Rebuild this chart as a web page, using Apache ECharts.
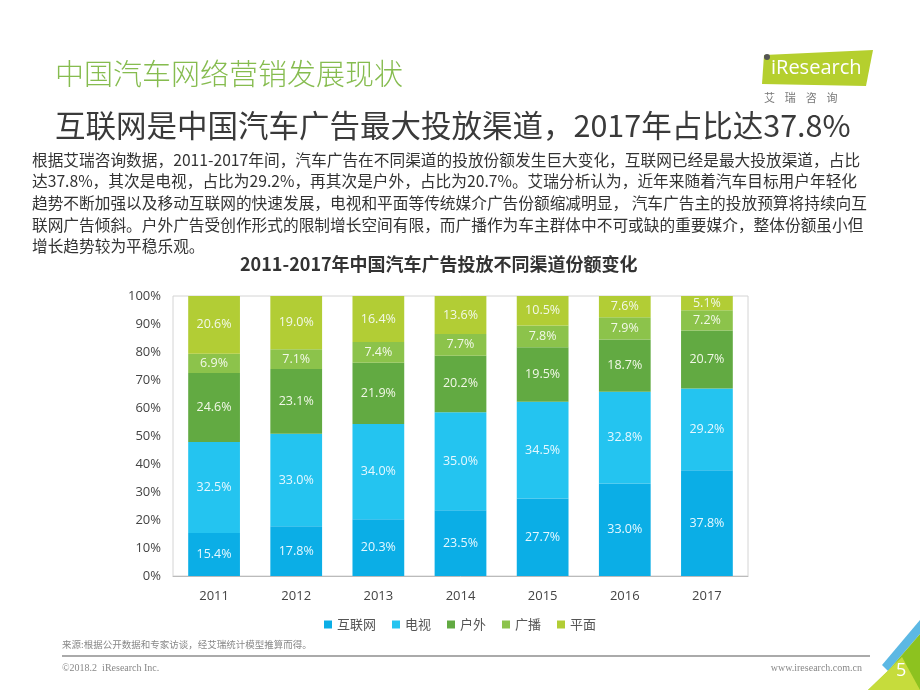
<!DOCTYPE html>
<html><head><meta charset="utf-8">
<script src="https://cdn.jsdelivr.net/npm/echarts@6/dist/echarts.min.js"></script>
<style>html,body{margin:0;padding:0;background:#fff}#c{width:920px;height:690px}</style>
</head><body><div id="c"></div>
<script>
const years = ['2011','2012','2013','2014','2015','2016','2017'];
const seriesNames = ['互联网','电视','户外','广播','平面'];
const internet = [15.4,17.8,20.3,23.5,27.7,33.0,37.8];
const tv = [32.5,33.0,34.0,35.0,34.5,32.8,29.2];
const outdoor = [24.6,23.1,21.9,20.2,19.5,18.7,20.7];
const radio = [6.9,7.1,7.4,7.7,7.8,7.9,7.2];
const print = [20.6,19.0,16.4,13.6,10.5,7.6,5.1];
const yTicks = [0,10,20,30,40,50,60,70,80,90,100];
const colors = ['#0BAEE6','#24C4F0','#62AA42','#8CC34B','#B2CD35'];
const bodyLines = [
 '根据艾瑞咨询数据，2011-2017年间，汽车广告在不同渠道的投放份额发生巨大变化，互联网已经是最大投放渠道，占比',
 '达37.8%，其次是电视，占比为29.2%，再其次是户外，占比为20.7%。艾瑞分析认为，近年来随着汽车目标用户年轻化',
 '趋势不断加强以及移动互联网的快速发展，电视和平面等传统媒介广告份额缩减明显， 汽车广告主的投放预算将持续向互',
 '联网广告倾斜。户外广告受创作形式的限制增长空间有限，而广播作为车主群体中不可或缺的重要媒介，整体份额虽小但',
 '增长趋势较为平稳乐观。'
];
const dataSets = [internet, tv, outdoor, radio, print];
const cjk = '"Noto Sans CJK SC", "Noto Sans", sans-serif';

const chart = echarts.init(document.getElementById('c'));
const graphics = [
  {type:'text', left:55, top:59, style:{text:'中国汽车网络营销发展现状', font:'300 29px '+cjk, fill:'#86BC4F'}},
  {type:'text', left:55, top:110, style:{text:'互联网是中国汽车广告最大投放渠道，2017年占比达37.8%', font:'30.5px '+cjk, fill:'#3A3A3A'}},
  {type:'text', left:32, top:149, style:{text:bodyLines.join('\n'), font:'15.7px '+cjk, fill:'#333', lineHeight:21.6}},
  {type:'text', left:240, top:255, style:{text:'2011-2017年中国汽车广告投放不同渠道份额变化', font:'bold 18px '+cjk, fill:'#333'}},
  {type:'text', left:62, top:640, style:{text:'来源:根据公开数据和专家访谈，经艾瑞统计模型推算而得。', font:'9.5px '+cjk, fill:'#888'}},
  {type:'line', shape:{x1:62,y1:656,x2:870,y2:656}, style:{stroke:'#aaa', lineWidth:2}},
  {type:'text', left:62, top:663, style:{text:'©2018.2  iResearch Inc.', font:'10px "Liberation Serif", serif', fill:'#888'}},
  {type:'text', right:58, top:663, style:{text:'www.iresearch.com.cn', font:'10px "Liberation Serif", serif', fill:'#888'}},
  // logo
  {type:'polygon', shape:{points:[[764,55],[873,50],[866,86],[762,84]]}, style:{fill:'#B5CF2E'}},
  {type:'text', left:771, top:58, style:{text:'iResearch', font:'20px "Open Sans", sans-serif', fill:'#fff'}},
  {type:'circle', shape:{cx:767,cy:57,r:3}, style:{fill:'#555'}},
  {type:'text', left:764, top:92, style:{text:'艾    瑞    咨    询', font:'11px '+cjk, fill:'#777'}},
  // corner
  {type:'polygon', shape:{points:[[882,665],[920,620],[920,634],[888,671]]}, style:{fill:'#5CB8E4'}},
  {type:'polygon', shape:{points:[[888,671],[920,634],[920,690],[868,690]]}, style:{fill:'#8DC21F'}},
  {type:'polygon', shape:{points:[[868,690],[902,657],[920,690]]}, style:{fill:'#C6DC3C'}},
  {type:'text', left:896, top:662, style:{text:'5', font:'18px "Open Sans", sans-serif', fill:'#fff'}}
];

chart.setOption({
  animation:false,
  color: colors,
  graphic: graphics,
  grid:{left:173, right:172, top:296, bottom:114, show:true, borderColor:'#d4d4d4', borderWidth:1},
  legend:{
    data: seriesNames, bottom:54, left:'center', icon:'rect', itemWidth:8, itemHeight:8, itemGap:16,
    textStyle:{fontSize:13, color:'#555', fontFamily:cjk}
  },
  xAxis:{
    type:'category', data: years,
    axisLine:{lineStyle:{color:'#bbb'}}, axisTick:{show:false},
    axisLabel:{color:'#444', fontSize:13, margin:14, fontFamily:'"Open Sans", sans-serif'}
  },
  yAxis:{
    type:'value', min:0, max:100, interval:10,
    axisLabel:{formatter:v=>v+'%', color:'#444', fontSize:13, margin:12, fontFamily:'"Open Sans", sans-serif'},
    splitLine:{show:false}, axisLine:{show:false}, axisTick:{show:false}
  },
  series: seriesNames.map((n,i)=>({
    name:n, type:'bar', stack:'s', barWidth:'63%', data:dataSets[i],
    itemStyle:{color:colors[i]},
    label:{show:true, position:'inside', formatter:p=>p.value.toFixed(1)+'%', color: i<2 ? '#E6F8FF' : '#F2F8E8', fontSize:12.5, fontFamily:'"Open Sans", sans-serif'}
  }))
});
</script></body></html>
